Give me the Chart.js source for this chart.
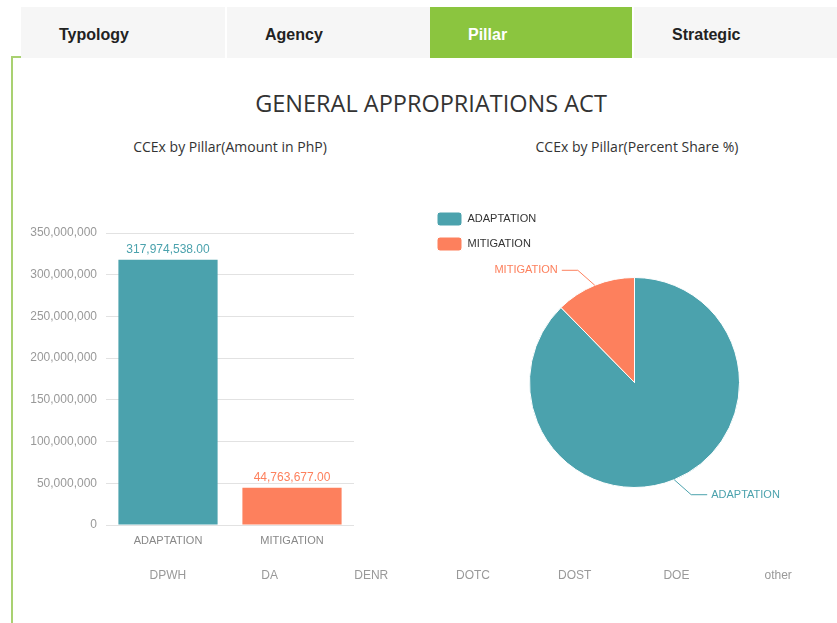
<!DOCTYPE html>
<html>
<head>
<meta charset="utf-8">
<script src="https://cdn.jsdelivr.net/npm/chart.js@4"></script>
<style>
    html, body { margin: 0; padding: 0; background: #fff; }
    body { width: 837px; height: 623px; position: relative; overflow: hidden; font-family: "Liberation Sans", Arial, sans-serif; }
    .tab { position: absolute; top: 7px; height: 51px; background: #f6f6f6; font-weight: bold; font-size: 16px; color: #222; line-height: 55px; box-sizing: border-box; padding-left: 38px; }
    .tab.active { background: #8bc53f; color: #fff; }
    .frameV { position: absolute; left: 11px; top: 56px; width: 2px; height: 567px; background: #a9d171; }
    .frameH { position: absolute; left: 11px; top: 56px; width: 10px; height: 2px; background: #a9d171; }
    .title { position: absolute; left: 0; width: 862px; top: 87px; text-align: center; font-family: "Open Sans", sans-serif; font-size: 23.5px; color: #333; }
    .sub { position: absolute; top: 137px; font-family: "Open Sans", sans-serif; font-size: 14px; color: #333; text-align: center; width: 300px; }
    canvas { position: absolute; }
</style>
</head>
<body>
<div class="tab" style="left:21px;width:204px;">Typology</div>
<div class="tab" style="left:227px;width:203px;">Agency</div>
<div class="tab active" style="left:430px;width:202px;">Pillar</div>
<div class="tab" style="left:634px;width:203px;">Strategic</div>
<div class="frameV"></div>
<div class="frameH"></div>

<div class="title">GENERAL APPROPRIATIONS ACT</div>
<div class="sub" style="left:80px;">CCEx by Pillar(Amount in PhP)</div>
<div class="sub" style="left:487px;">CCEx by Pillar(Percent Share %)</div>

<canvas id="barChart" width="334" height="370" style="left:20px;top:190px;"></canvas>
<canvas id="pieChart" width="417" height="363" style="left:426px;top:201px;"></canvas>
<canvas id="agencyChart" width="725" height="40" style="left:110px;top:555px;"></canvas>

<script>
// pillar amounts (PhP)
const pillars = ["ADAPTATION", "MITIGATION"];
const amounts = [317974538.00, 44763677.00];
const pillarColors = ["#4ba2ad", "#fd805d"];
// agency tabs shown below (next chart, no bars visible)
const agencies = ["DPWH", "DA", "DENR", "DOTC", "DOST", "DOE", "other"];

const fontFamily = '"Liberation Sans", Arial, sans-serif';

// value labels above each bar
const barValueLabels = {
    id: "barValueLabels",
    afterDatasetsDraw(chart) {
        const ctx = chart.ctx;
        const meta = chart.getDatasetMeta(0);
        ctx.save();
        ctx.font = "12px " + fontFamily;
        ctx.textAlign = "center";
        ctx.textBaseline = "middle";
        meta.data.forEach((bar, i) => {
            const v = chart.data.datasets[0].data[i];
            ctx.fillStyle = pillarColors[i];
            ctx.fillText(v.toLocaleString("en-US", { minimumFractionDigits: 2, maximumFractionDigits: 2 }), bar.x, bar.y - 10);
        });
        ctx.restore();
    }
};

// outside labels with leader lines for the pie
const pieOuterLabels = {
    id: "pieOuterLabels",
    afterDatasetsDraw(chart) {
        const ctx = chart.ctx;
        const meta = chart.getDatasetMeta(0);
        ctx.save();
        ctx.font = "11px " + fontFamily;
        ctx.textBaseline = "middle";
        ctx.lineWidth = 1;
        meta.data.forEach((arc, i) => {
            const p = arc.getProps(["x", "y", "startAngle", "endAngle", "outerRadius"], true);
            const mid = (p.startAngle + p.endAngle) / 2;
            const ax = p.x + Math.cos(mid) * p.outerRadius;
            const ay = p.y + Math.sin(mid) * p.outerRadius;
            const sx = Math.cos(mid) >= 0 ? 1 : -1;
            const sy = Math.sin(mid) >= 0 ? 1 : -1;
            const bx = ax + sx * 17;
            const by = ay + sy * 15;
            const cx = bx + sx * 16;
            ctx.strokeStyle = pillarColors[i];
            ctx.beginPath();
            ctx.moveTo(ax, ay);
            ctx.lineTo(bx, by);
            ctx.lineTo(cx, by);
            ctx.stroke();
            ctx.fillStyle = pillarColors[i];
            ctx.textAlign = sx > 0 ? "left" : "right";
            ctx.fillText(chart.data.labels[i], cx + sx * 4, by);
        });
        ctx.restore();
    }
};

new Chart(document.getElementById("barChart"), {
    type: "bar",
    data: {
        labels: pillars,
        datasets: [{
            data: amounts,
            backgroundColor: pillarColors,
            borderWidth: 0,
            categoryPercentage: 1,
            barPercentage: 0.8
        }]
    },
    plugins: [barValueLabels],
    options: {
        responsive: false,
        animation: false,
        layout: { padding: { top: 43, right: 0 } },
        plugins: { legend: { display: false }, tooltip: { enabled: false } },
        scales: {
            x: {
                grid: { display: false, drawTicks: false },
                border: { display: false },
                ticks: { color: "#888", font: { size: 11, family: fontFamily }, padding: 9 },
                afterFit(scale) { scale.height = 35; }
            },
            y: {
                min: 0,
                max: 350000000,
                ticks: { stepSize: 50000000, color: "#999", font: { size: 12, family: fontFamily }, padding: 9 },
                grid: { color: "#e2e2e2", drawTicks: false },
                border: { display: false },
                afterFit(scale) { scale.width = 86; }
            }
        }
    }
});

new Chart(document.getElementById("pieChart"), {
    type: "pie",
    data: {
        labels: pillars,
        datasets: [{
            data: amounts,
            backgroundColor: pillarColors,
            borderColor: "#fff",
            borderWidth: 1
        }]
    },
    plugins: [pieOuterLabels],
    options: {
        responsive: false,
        animation: false,
        radius: 105,
        plugins: {
            tooltip: { enabled: false },
            legend: {
                position: "chartArea",
                align: "start",
                labels: {
                    boxWidth: 25,
                    boxHeight: 14,
                    padding: 11,
                    useBorderRadius: true,
                    borderRadius: 3,
                    color: "#333",
                    font: { size: 11, family: fontFamily }
                }
            }
        }
    }
});

new Chart(document.getElementById("agencyChart"), {
    type: "bar",
    data: { labels: agencies, datasets: [] },
    options: {
        responsive: false,
        animation: false,
        layout: { padding: { left: 7, right: 6 } },
        plugins: { legend: { display: false }, tooltip: { enabled: false } },
        scales: {
            x: {
                grid: { display: false, drawTicks: false },
                border: { display: false },
                ticks: { color: "#999", font: { size: 12, family: fontFamily }, padding: 3 },
                afterFit(scale) { scale.height = 30; }
            },
            y: { display: false }
        }
    }
});
</script>
</body>
</html>
